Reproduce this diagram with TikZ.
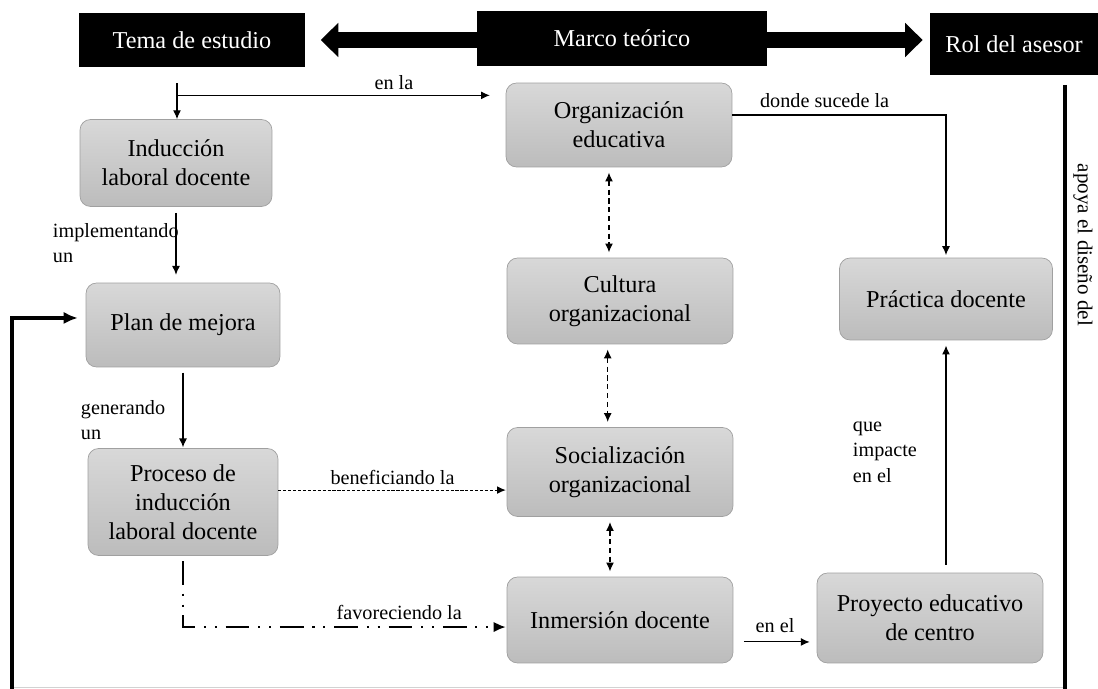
\documentclass[tikz,border=0pt]{standalone}
\usepackage{fontspec}
\setmainfont{Liberation Serif}
\usetikzlibrary{arrows.meta,positioning,calc}
\definecolor{boxtop}{RGB}{216,216,216}
\definecolor{boxbottom}{RGB}{188,188,188}
\definecolor{boxline}{RGB}{160,160,160}

\begin{document}
\begin{tikzpicture}[x=0.02cm,y=-0.02cm,>={Latex[length=5pt,width=4.5pt]},
	concept/.style={rounded corners=6pt,draw=boxline,top color=boxtop,bottom color=boxbottom,align=center,font=\fontsize{13.8}{16.5}\selectfont,minimum width=4.52cm,minimum height=1.72cm,inner sep=2pt},
	titlebox/.style={fill=black,text=white,font=\fontsize{13.8}{15}\selectfont,minimum height=1.08cm,inner sep=0pt},
	lbl/.style={font=\fontsize{11.5}{14.5}\selectfont,align=left,inner sep=1.5pt},
	conn/.style={->,line width=0.6pt},
	dotconn/.style={->,line width=0.6pt,dash pattern=on 1.8pt off 1pt},
	dashconn/.style={<->,line width=0.6pt,dash pattern=on 3pt off 2pt,shorten <=3pt,shorten >=3pt},
	dashdotconn/.style={-{Latex[length=7pt,width=6pt]},line width=1.1pt,dash pattern=on 13.5pt off 5pt on 1.2pt off 5pt on 1.2pt off 5pt}]
	\useasboundingbox (0,0) rectangle (1098,689);
	% Title row
	\node[titlebox,minimum width=4.54cm] (tema) at (192,40) {Tema de estudio};
	\node[titlebox,minimum width=3.36cm,minimum height=1.24cm] (rol) at (1014,44) {Rol del asesor};
	\draw[line width=9pt,{Triangle[length=10pt,width=19pt]}-{Triangle[length=10pt,width=19pt]},shorten <=8.5pt,shorten >=4pt] (tema.east) -- (tema.east -| rol.west);
	\node[titlebox,minimum width=5.8cm,minimum height=1.1cm] (marco) at (622,38.5) {Marco teórico};
	% Boxes
	\node[concept,minimum width=3.84cm,minimum height=1.74cm] (ind) at (176,163) {Inducción\\laboral docente};
	\node[concept,minimum width=3.88cm,minimum height=1.68cm] (plan) at (183,325) {Plan de mejora};
	\node[concept,minimum width=3.8cm,minimum height=2.14cm] (proc) at (183,502) {Proceso de\\inducción\\laboral docente};
	\node[concept,minimum height=1.68cm] (org) at (619,125) {Organización\\educativa};
	\node[concept] (cult) at (620,301) {Cultura\\organizacional};
	\node[concept,minimum height=1.78cm] (soc) at (620,472) {Socialización\\organizacional};
	\node[concept] (inm) at (620,620) {Inmersión docente};
	\node[concept,minimum width=4.26cm,minimum height=1.64cm] (prac) at (946,299) {Práctica docente};
	\node[concept,minimum height=1.8cm] (proy) at (930,618) {Proyecto educativo\\de centro};
	% Left column
	\coordinate (temafoot) at ($(tema.south)+(-15,16)$);
	\coordinate (fork) at ($(temafoot)+(0,12)$);
	\draw[conn] (temafoot) -- (temafoot |- ind.north);
	\draw[conn,shorten >=9pt] (fork) -- (fork -| org.west) node[pos=0.66,above,lbl,inner sep=3pt] {en la};
	\draw[conn,shorten <=3.4pt,shorten >=4.5pt] (ind.south) -- (ind.south |- plan.north);
	\node[lbl,anchor=west] (implementando) at (50,243) {implementando\\un};
	\draw[conn,shorten <=3pt,shorten >=0.5pt] (plan.south) -- (plan.south |- proc.north);
	\node[lbl,anchor=west] (generando) at (78,420) {generando\\un};
	\draw[dotconn,shorten >=0.5pt] ([yshift=6.8pt]proc.east) -- ([yshift=6.8pt]proc.east -| soc.west) node[midway,above,lbl,inner sep=2.5pt] {beneficiando la};
	\coordinate (inmin) at ([yshift=-4pt]inm.west);
	\draw[dashdotconn,shorten <=3pt,shorten >=0.5pt] (proc.south) |- (inmin) node[pos=0.834,above,lbl,inner sep=3.5pt] {favoreciendo la};
	% Middle column
	\draw[dashconn] ([xshift=-5.7pt]org.south) -- ([xshift=-5.7pt]org.south |- cult.north);
	\draw[dashconn] ([xshift=-7pt]cult.south) -- ([xshift=-7pt]cult.south |- soc.north);
	\draw[dashconn] ([xshift=-5.7pt]soc.south) -- ([xshift=-5.7pt]soc.south |- inm.north);
	% Right column
	\draw[conn,shorten >=1.5pt] ([yshift=5.7pt]org.east) -| (prac.north) node[pos=0.216,above,lbl,inner sep=4pt] {donde sucede la};
	\draw[conn,shorten <=6pt,shorten >=4pt] ([yshift=-12.5pt]inm.east) -- ([yshift=-12.5pt]inm.east -| proy.west) node[midway,above,lbl,inner sep=5pt] {en el};
	\draw[conn,shorten <=4.5pt,shorten >=3pt] (proy.north -| prac.south) -- (prac.south);
	\node[lbl,anchor=west] (impacte) at (850,452) {que\\impacte\\en el};
	% Frame lines
	\draw[gray!35] (12,687) -- (1065,687);
	\coordinate (fbfoot) at (12,689);
	\draw[line width=2.3pt,-{Latex[length=8pt,width=7pt]},shorten >=4.5pt] (fbfoot) |- ([yshift=4pt]plan.west);
	\draw[line width=2.3pt] (1065,85) -- (1065,689);
	\node[lbl,font=\fontsize{12}{14}\selectfont,rotate=-90] (apoya) at (1083,245) {apoya el diseño del};
\end{tikzpicture}
\end{document}
